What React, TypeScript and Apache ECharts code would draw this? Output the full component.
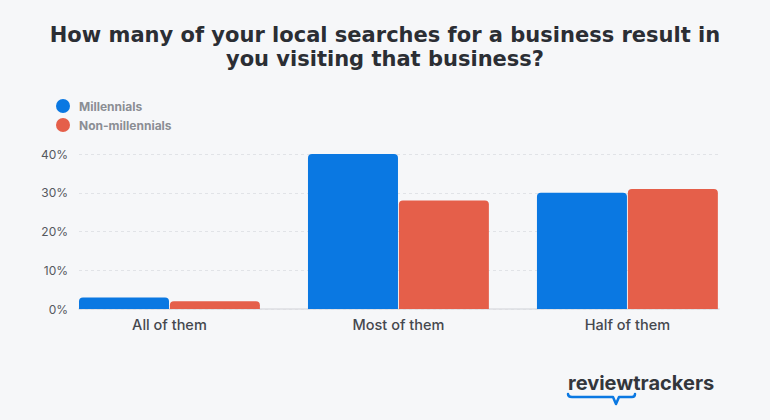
import React, { useEffect, useRef } from 'react'
import * as echarts from 'echarts'

const categories = ['All of them', 'Most of them', 'Half of them']
const millennials = [3, 40, 30]
const nonMillennials = [2, 28, 31]
const seriesNames = ['Millennials', 'Non-millennials']
const yMax = 40
const yStep = 10

const FONT = 'Inter, "Open Sans", sans-serif'
const TITLE_FONT = '"DejaVu Sans", Inter, sans-serif'

// little speech-bubble underline of the logo
echarts.graphic.registerShape(
    'logo',
    echarts.graphic.extendPath(
        'M0 0 Q0 3 4 3 L45 3 L48 10 L51 3 L64 3 Q67 3 67 0',
        {}
    )
)

const App: React.FC = () => {
    const chartRef = useRef<HTMLDivElement | null>(null)

    useEffect(() => {
        if (!chartRef.current) return
        const chart = echarts.init(chartRef.current, undefined, { renderer: 'svg' })

        const options = {
            animation: false,
            backgroundColor: '#f6f7f9',
            textStyle: { fontFamily: FONT },
            title: {
                text: 'How many of your local searches for a business result in\nyou visiting that business?',
                left: 'center',
                top: 18,
                textStyle: {
                    fontFamily: TITLE_FONT,
                    fontSize: 21,
                    fontWeight: 'bold',
                    lineHeight: 24,
                    color: '#2b2e34',
                    align: 'center',
                },
            },
            legend: {
                orient: 'vertical',
                left: 51,
                top: 94,
                itemWidth: 18,
                itemHeight: 14,
                itemGap: 5,
                icon: 'path://M0 50 A50 50 0 1 1 100 50 A50 50 0 1 1 0 50Z',
                data: seriesNames,
                textStyle: {
                    fontFamily: FONT,
                    fontSize: 12,
                    fontWeight: 700,
                    color: '#8b8e94',
                    padding: [0, 0, 0, 2],
                },
            },
            grid: {
                left: 79,
                right: 51,
                top: 154,
                bottom: 111,
                containLabel: false,
            },
            xAxis: {
                type: 'value',
                min: -0.395,
                max: 2.4,
                splitLine: { show: false },
                axisTick: { show: false },
                axisLine: { show: true, lineStyle: { color: '#dcdee2', width: 1.5 } },
                axisLabel: {
                    customValues: categories.map((_, i) => i),
                    formatter: (v: number) => categories[Math.round(v)] ?? '',
                    margin: 8,
                    fontFamily: FONT,
                    fontSize: 14.5,
                    fontWeight: 500,
                    color: '#45484e',
                },
            },
            yAxis: {
                type: 'value',
                min: 0,
                max: yMax,
                interval: yStep,
                axisLine: { show: false },
                axisTick: { show: false },
                axisLabel: {
                    formatter: '{value}%',
                    margin: 11,
                    fontFamily: FONT,
                    fontSize: 12,
                    color: '#55585e',
                },
                splitLine: {
                    lineStyle: { color: '#e1e3e7', type: [3, 3], width: 1 },
                },
            },
            series: [
                {
                    name: seriesNames[0],
                    type: 'bar',
                    barWidth: 90,
                    barGap: '1%',
                    data: categories.map((_, i) => [i, millennials[i]]),
                    itemStyle: { color: '#0a78e2', borderRadius: [4, 4, 0, 0] },
                },
                {
                    name: seriesNames[1],
                    type: 'bar',
                    barWidth: 90,
                    barGap: '1%',
                    data: categories.map((_, i) => [i, nonMillennials[i]]),
                    itemStyle: { color: '#e55f4a', borderRadius: [4, 4, 0, 0] },
                },
            ],
            graphic: [
                {
                    type: 'text',
                    left: 568,
                    top: 373,
                    style: {
                        text: 'reviewtrackers',
                        font: `700 20px ${FONT}`,
                        fill: '#33363c',
                    },
                },
                {
                    type: 'logo',
                    x: 568,
                    y: 394,
                    style: { fill: 'none', stroke: '#0a78e2', lineWidth: 2.5, lineCap: 'round', lineJoin: 'round' },
                },
            ],
        }

        chart.setOption(options as any)

        return () => {
            chart.dispose()
        }
    }, [])

    return (
        <div
            ref={chartRef}
            style={{ position: 'fixed', left: 0, top: 0, width: '770px', height: '420px' }}
        />
    )
}

export default App
